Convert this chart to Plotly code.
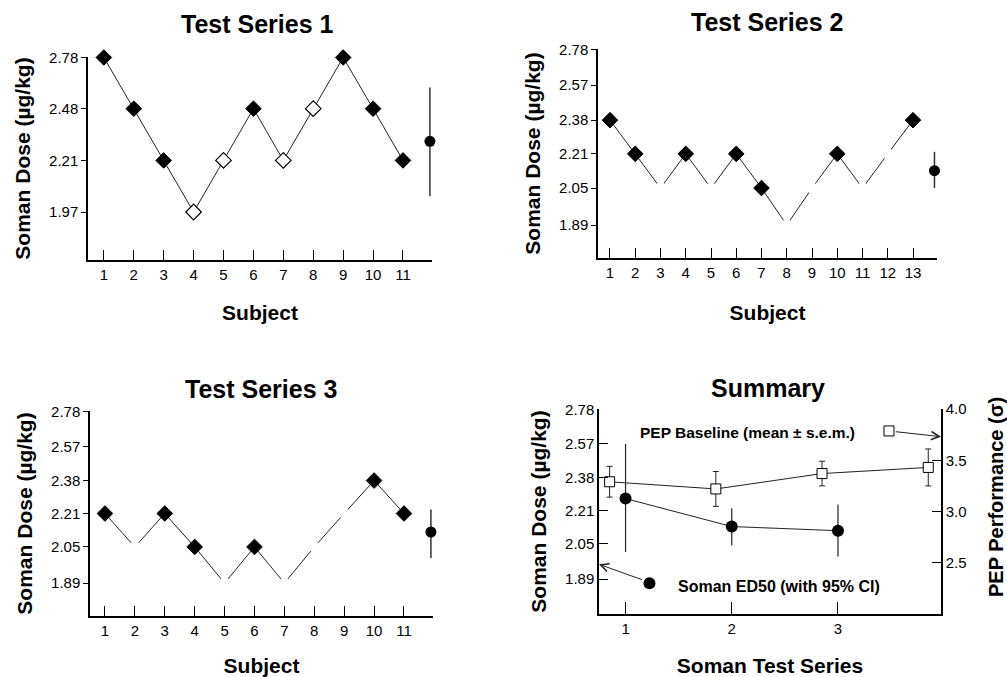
import plotly.graph_objects as go

# ---------------- data ----------------
subjects1 = list(range(1, 12))
dose1 = [2.78, 2.48, 2.21, 1.97, 2.21, 2.48, 2.21, 2.48, 2.78, 2.48, 2.21]
effect1 = [1, 1, 1, 0, 0, 1, 0, 0, 1, 1, 1]
mean1, lo1, hi1 = 2.306, 2.04, 2.60
yticks1 = [1.97, 2.21, 2.48, 2.78]

subjects2 = list(range(1, 14))
dose2 = [2.38, 2.21, 2.05, 2.21, 2.05, 2.21, 2.05, 1.89, 2.05, 2.21, 2.05, 2.21, 2.38]
effect2 = [1, 1, 0, 1, 0, 1, 1, 0, 0, 1, 0, 0, 1]
mean2, lo2, hi2 = 2.13, 2.05, 2.22

subjects3 = list(range(1, 12))
dose3 = [2.21, 2.05, 2.21, 2.05, 1.89, 2.05, 1.89, 2.05, 2.21, 2.38, 2.21]
effect3 = [1, 0, 1, 1, 0, 1, 0, 0, 0, 1, 1]
mean3, lo3, hi3 = 2.12, 2.00, 2.23

yticks23 = [1.89, 2.05, 2.21, 2.38, 2.57, 2.78]

series = [1, 2, 3]
ed50 = [2.27, 2.13, 2.11]
ed50_lo = [2.01, 2.04, 1.99]
ed50_hi = [2.57, 2.22, 2.24]

pep_x = [0.85, 1.85, 2.85, 3.85]
pep = [3.29, 3.22, 3.37, 3.43]
pep_sem = [0.15, 0.17, 0.12, 0.18]
pep_ticks = [2.5, 3.0, 3.5, 4.0]

FONT = "Liberation Sans"
W, H = 1007, 677

fig = go.Figure()


def px_x(a, b):
    return [a / W, b / W]


def px_y(top, bottom):
    return [1 - bottom / H, 1 - top / H]


def subject_panel(n, subjects, dose, effect, mx, mean, lo, hi, open_line, open_w):
    xa, ya = "x%d" % n, "y%d" % n
    colors = ["black" if e else "white" for e in effect]
    lcol = ["black" if e else open_line for e in effect]
    lw = [1 if e else open_w for e in effect]
    fig.add_trace(go.Scatter(
        x=subjects, y=dose, mode="lines+markers", cliponaxis=False,
        line=dict(color="#222", width=1),
        marker=dict(symbol="diamond", size=12, color=colors,
                    line=dict(color=lcol, width=lw)),
        xaxis=xa, yaxis=ya, showlegend=False, hoverinfo="x+y"))
    fig.add_trace(go.Scatter(
        x=[mx], y=[mean], mode="markers", cliponaxis=False,
        marker=dict(symbol="circle", size=11, color="black"),
        error_y=dict(type="data", symmetric=False, array=[hi - mean],
                     arrayminus=[mean - lo], width=0, thickness=1.5, color="#333"),
        xaxis=xa, yaxis=ya, showlegend=False))


subject_panel(1, subjects1, dose1, effect1, 11.9, mean1, lo1, hi1, "black", 1.2)
subject_panel(2, subjects2, dose2, effect2, 13.85, mean2, lo2, hi2, "white", 0)
subject_panel(3, subjects3, dose3, effect3, 11.9, mean3, lo3, hi3, "white", 0)

# Summary panel
fig.add_trace(go.Scatter(
    x=series, y=ed50, mode="lines+markers", cliponaxis=False,
    line=dict(color="#222", width=1),
    marker=dict(symbol="circle", size=12, color="black"),
    error_y=dict(type="data", symmetric=False,
                 array=[h - v for h, v in zip(ed50_hi, ed50)],
                 arrayminus=[v - l for v, l in zip(ed50, ed50_lo)],
                 width=0, thickness=1.2, color="#222"),
    xaxis="x4", yaxis="y4", showlegend=False))
fig.add_trace(go.Scatter(
    x=pep_x, y=pep, mode="lines+markers", cliponaxis=False,
    line=dict(color="#222", width=1),
    marker=dict(symbol="square", size=10, color="white", line=dict(color="black", width=1)),
    error_y=dict(type="data", array=pep_sem, width=3, thickness=1, color="#222"),
    xaxis="x4", yaxis="y5", showlegend=False))
# legend keys
fig.add_trace(go.Scatter(
    x=[3.48], y=[3.786], mode="markers", cliponaxis=False,
    marker=dict(symbol="square", size=10, color="white", line=dict(color="black", width=1)),
    xaxis="x4", yaxis="y5", showlegend=False, hoverinfo="skip"))
fig.add_trace(go.Scatter(
    x=[1.225], y=[2.30], mode="markers", cliponaxis=False,
    marker=dict(symbol="circle", size=12, color="black"),
    xaxis="x4", yaxis="y5", showlegend=False, hoverinfo="skip"))

tickfont = dict(family=FONT, size=15, color="black")
titlefont = dict(family=FONT, size=21, color="black")


def xaxis(dom, rng, tv, title, standoff, ticklen=10):
    return dict(domain=dom, range=rng, tickvals=tv, ticks="inside", ticklen=ticklen,
                tickcolor="black", tickwidth=1, showline=True, linecolor="black",
                linewidth=1.5, showgrid=False, zeroline=False, tickfont=tickfont,
                automargin=False,
                title=dict(text="<b>%s</b>" % title, font=titlefont, standoff=standoff))


def ylog(dom, rng, tv, ticks="outside", ticklen=5, standoff=13):
    return dict(domain=dom, type="log", range=rng, tickvals=tv,
                ticktext=["%.2f" % v for v in tv], ticks=ticks, ticklen=ticklen,
                tickcolor="black", tickwidth=1, showline=True, linecolor="black",
                linewidth=1.5, showgrid=False, zeroline=False, tickfont=tickfont,
                automargin=False,
                title=dict(text="<b>Soman Dose (µg/kg)</b>", font=titlefont, standoff=standoff))


fig.update_layout(
    width=W, height=H, margin=dict(l=0, r=0, t=0, b=0, autoexpand=False),
    paper_bgcolor="white", plot_bgcolor="white",
    font=dict(family=FONT, color="black"),
    xaxis=dict(xaxis(px_x(88, 432), [0.47, 11.97], subjects1, "Subject", 24), anchor="y"),
    yaxis=dict(ylog(px_y(57, 260), [0.248, 0.4445], yticks1), anchor="x"),
    xaxis2=dict(xaxis(px_x(598, 937), [0.525, 13.95], subjects2, "Subject", 26), anchor="y2"),
    yaxis2=dict(ylog(px_y(49, 258), [0.245, 0.4445], yticks23), anchor="x2"),
    xaxis3=dict(xaxis(px_x(90, 433), [0.5, 11.97], subjects3, "Subject", 34), anchor="y3"),
    yaxis3=dict(ylog(px_y(411, 616), [0.2443, 0.4445], yticks23), anchor="x3"),
    xaxis4=dict(xaxis(px_x(599, 941), [0.75, 3.97], series, "Soman Test Series", 34, ticklen=12),
                anchor="y4"),
    yaxis4=dict(ylog(px_y(409, 614), [0.242, 0.4445], yticks23, ticks="inside", ticklen=9),
                anchor="x4"),
    yaxis5=dict(domain=px_y(409, 614), range=[2.0, 4.0], tickvals=pep_ticks,
                tickformat=".1f", overlaying="y4", side="right", anchor="x4",
                ticks="inside", ticklen=9, tickcolor="black", showline=True,
                linecolor="black", linewidth=1.5, showgrid=False, zeroline=False,
                tickfont=tickfont, automargin=False),
)

titles = [("Test Series 1", 257, 24), ("Test Series 2", 767, 22),
          ("Test Series 3", 261, 389), ("Summary", 768, 388)]
for t, x, y in titles:
    fig.add_annotation(text="<b>%s</b>" % t, x=x / W, y=1 - y / H,
                       xref="paper", yref="paper",
                       showarrow=False, font=dict(family=FONT, size=25, color="black"),
                       xanchor="center", yanchor="middle")

# right-hand axis title
fig.add_annotation(text="<b>PEP Performance (σ)</b>", x=996 / W, y=1 - 497 / H,
                   xref="paper", yref="paper", showarrow=False, textangle=-90,
                   font=dict(family=FONT, size=20, color="black"),
                   xanchor="center", yanchor="middle")

fig.add_annotation(text="<b>PEP Baseline (mean ± s.e.m.)</b>", x=2.146, y=3.767,
                   xref="x4", yref="y5", showarrow=False,
                   font=dict(family=FONT, size=15.5, color="black"))
fig.add_annotation(text="<b>Soman ED50 (with 95% CI)</b>", x=2.446, y=2.272,
                   xref="x4", yref="y5", showarrow=False,
                   font=dict(family=FONT, size=16, color="black"))
fig.add_annotation(text="", x=3.97, y=3.73, ax=3.53, ay=3.78, xref="x4", yref="y5",
                   axref="x4", ayref="y5", showarrow=True, arrowhead=5, arrowsize=1.6,
                   arrowwidth=1, arrowcolor="#222")
fig.add_annotation(text="", x=0.75, y=2.485, ax=1.169, ay=2.33, xref="x4", yref="y5",
                   axref="x4", ayref="y5", showarrow=True, arrowhead=5, arrowsize=1.6,
                   arrowwidth=1, arrowcolor="#222")

fig.write_html("out.html", config={"displayModeBar": False},
               post_script="document.body.style.margin='0';document.body.style.overflow='hidden';")
